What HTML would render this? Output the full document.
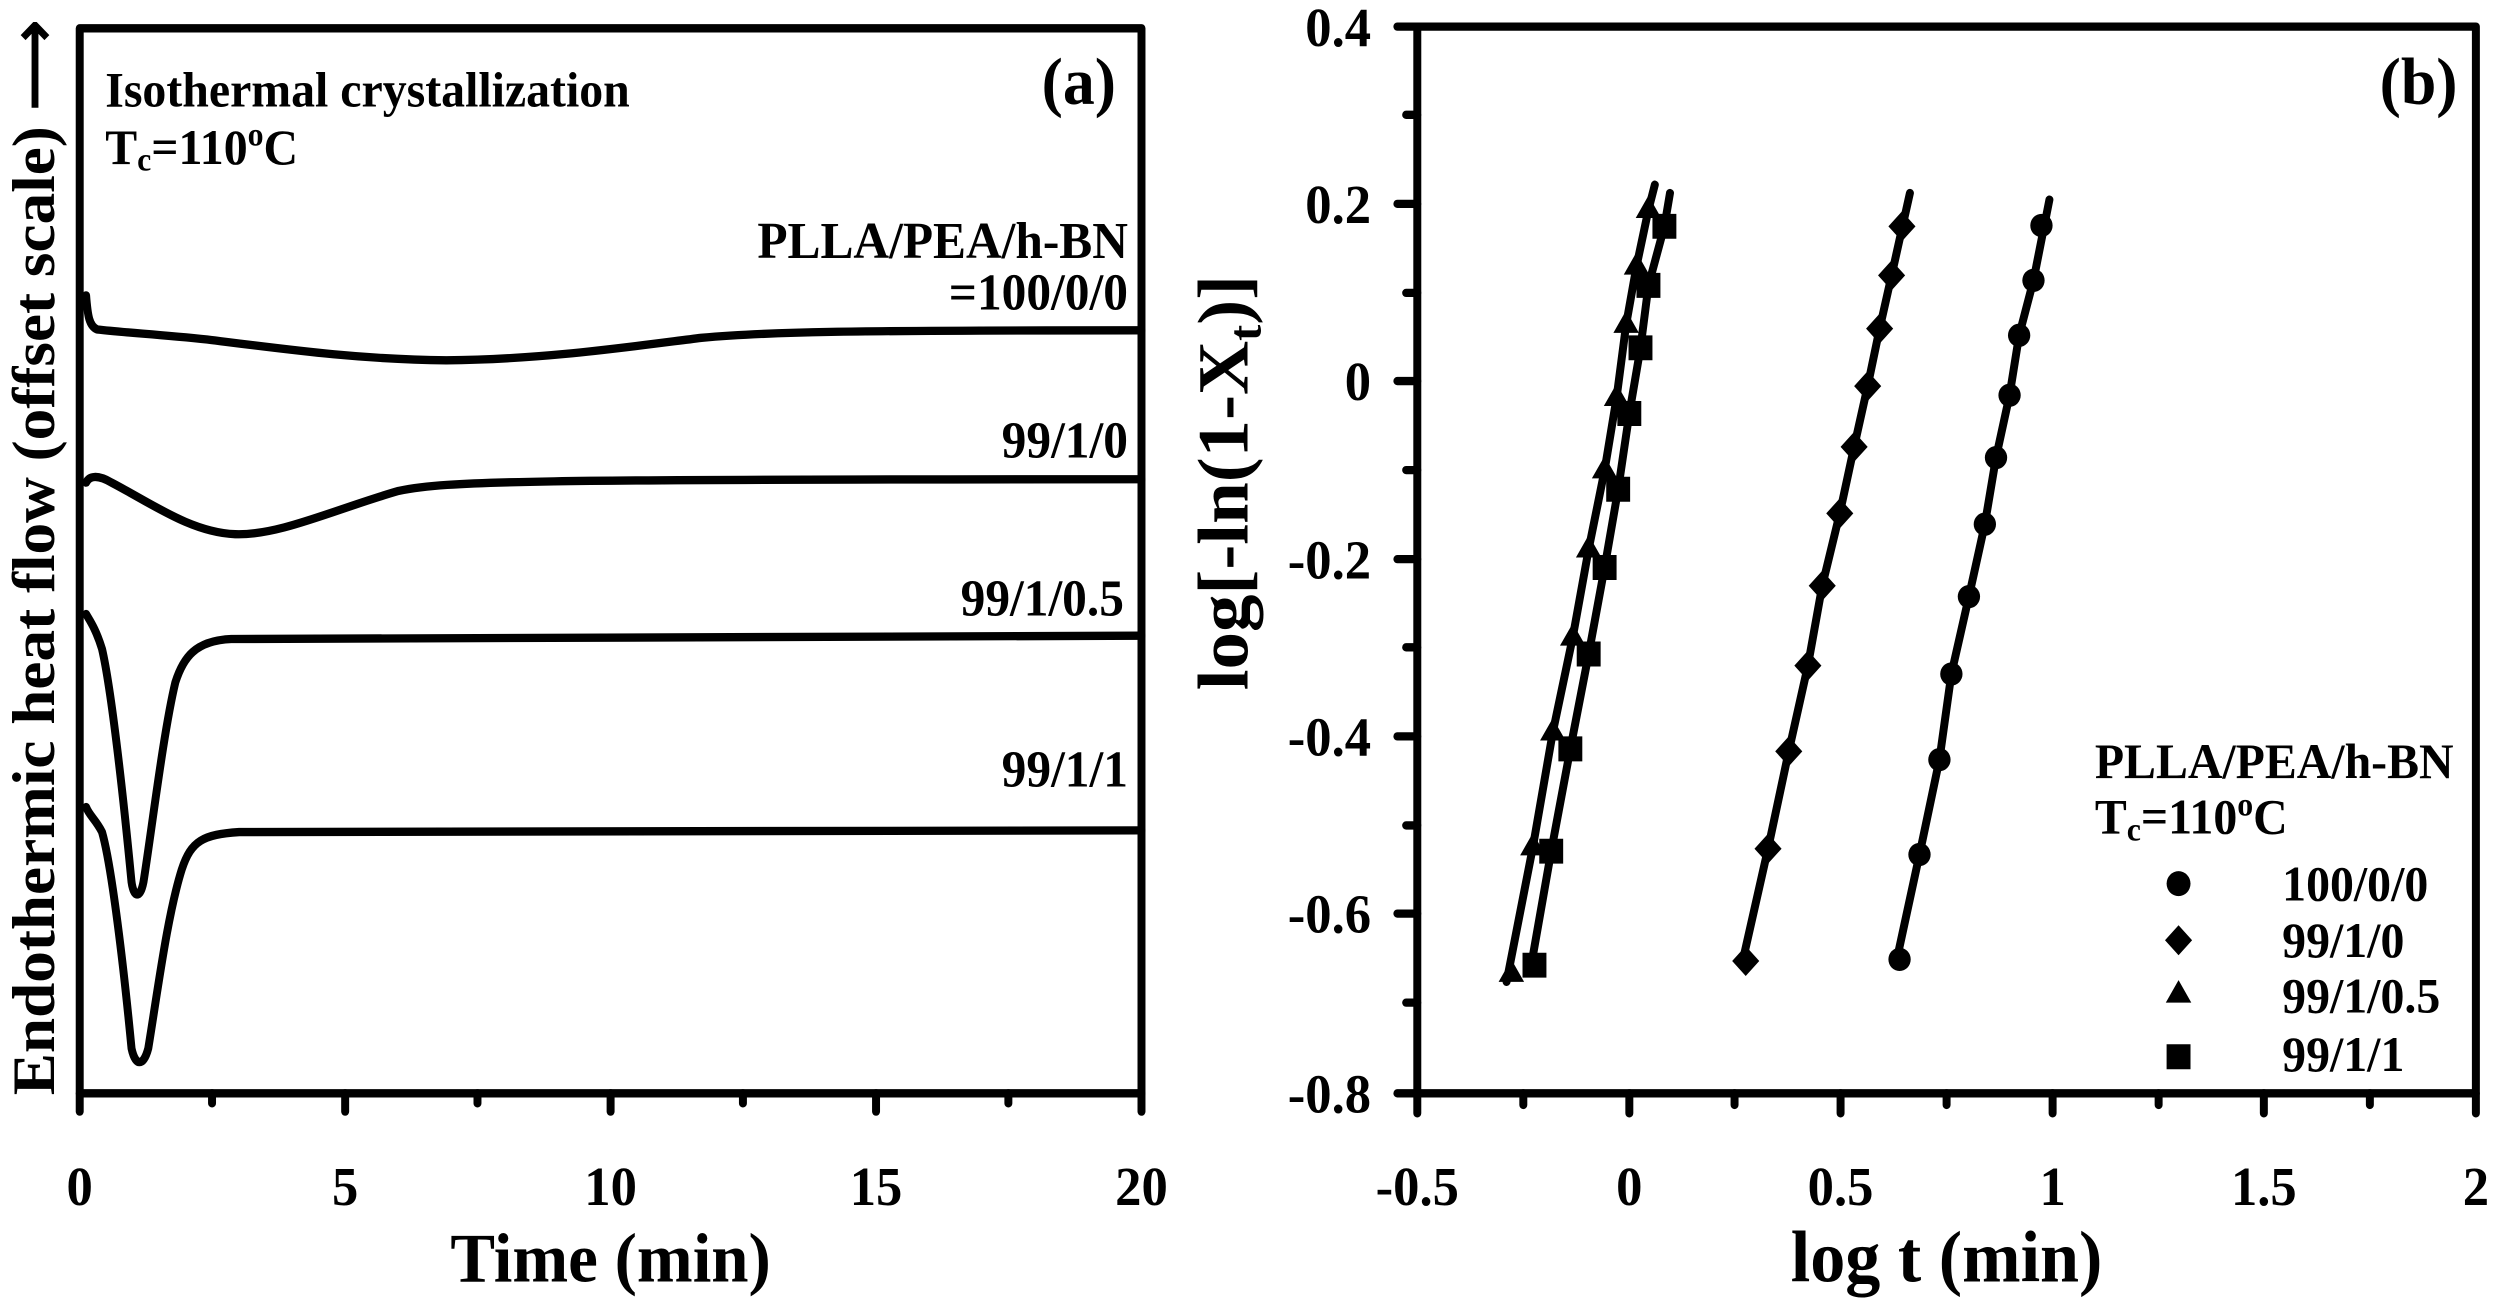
<!DOCTYPE html>
<html><head><meta charset="utf-8"><style>html,body{margin:0;padding:0;background:#fff}svg{display:block}</style></head>
<body>
<svg width="2499" height="1308" viewBox="0 0 3135 1572" preserveAspectRatio="none" xmlns="http://www.w3.org/2000/svg" font-family="'Liberation Serif',serif" font-weight="bold" fill="#000">
<rect width="3135" height="1572" fill="#fff"/>
<!-- Panel a -->
<g stroke="#000" stroke-width="10" fill="none" stroke-linecap="round" stroke-linejoin="round">
<rect x="100" y="34" width="1332" height="1280"/>
<path d="M100 1314v22M433 1314v22M766 1314v22M1099 1314v22M1432 1314v22M266 1314v12M599 1314v12M932 1314v12M1265 1314v12"/>
<path d="M108,355 C110,380 112,392 122,396 C160,400 200,402 260,408 C360,420 450,432 560,433 C680,432 780,418 880,406 C960,399 1050,397 1432,397"/>
<path d="M108,580 C112,572 122,570 140,580 C190,605 240,640 295,642 C350,644 420,612 500,590 C560,578 650,576 1432,576"/>
<path d="M108,738 C112,745 120,755 128,780 C140,830 155,960 165,1060 C168,1080 176,1080 180,1060 C190,1000 205,880 220,820 C230,790 245,770 290,768 C350,766 600,765 1432,764"/>
<path d="M108,970 C112,980 120,985 128,1000 C140,1040 155,1160 165,1260 C170,1282 180,1282 186,1260 C198,1190 210,1100 228,1045 C240,1010 255,1003 300,1000 C400,998 600,998 1432,998"/>
</g>
<g font-size="66" text-anchor="middle">
<text x="100" y="1448">0</text><text x="433" y="1448">5</text><text x="766" y="1448">10</text><text x="1099" y="1448">15</text><text x="1432" y="1448">20</text>
</g>
<text x="766" y="1540" font-size="84" text-anchor="middle">Time (min)</text>
<text transform="translate(68,670) rotate(-90)" font-size="76" text-anchor="middle">Endothermic heat flow (offset scale) ⟶</text>
<text x="132" y="128" font-size="60">Isothermal crystallization</text>
<text x="132" y="197" font-size="60">T<tspan font-size="40" dy="8">c</tspan><tspan dy="-8">=110</tspan><tspan font-size="40" dy="-22">o</tspan><tspan dy="22">C</tspan></text>
<text x="1400" y="125" font-size="80" text-anchor="end">(a)</text>
<g font-size="62" text-anchor="end">
<text x="1415" y="310">PLLA/PEA/h-BN</text>
<text x="1415" y="372">=100/0/0</text>
<text x="1415" y="550">99/1/0</text>
<text x="1410" y="740">99/1/0.5</text>
<text x="1415" y="945">99/1/1</text>
</g>
<!-- y label b -->
<text transform="translate(1565,580) rotate(-90)" font-size="90" text-anchor="middle">log[-ln(1-X<tspan font-size="58" dy="16">t</tspan><tspan dy="-16">)]</tspan></text>
<!-- Panel b -->
<g transform="translate(1568,0)">
<g stroke="#000" stroke-width="10" fill="none" stroke-linecap="round" stroke-linejoin="round">
<rect x="210" y="32" width="1328" height="1282"/>
<path d="M210 32h-25M210 245h-25M210 458h-25M210 672h-25M210 885h-25M210 1098h-25M210 1314h-25M210 138h-14M210 352h-14M210 565h-14M210 778h-14M210 992h-14M210 1205h-14"/>
<path d="M210 1314v24M476 1314v24M741 1314v24M1007 1314v24M1272 1314v24M1538 1314v24M343 1314v14M608 1314v14M874 1314v14M1140 1314v14M1405 1314v14"/>
<polyline points="810,1160 840,1027 865,913 880,810 902,717 922,630 936,550 953,475 965,403 983,337 1003,240"/>
<polyline points="617,1160 650,1020 676,903 700,800 718,704 740,617 758,537 775,464 790,395 805,331 828,232"/>
<polyline points="322,1180 355,1018 380,880 405,766 425,660 445,565 460,478 472,390 485,320 500,252 508,222"/>
<polyline points="352,1165 378,1023 402,900 425,786 445,682 462,588 476,497 490,418 500,343 520,272 527,232"/>
</g>
<g>
<circle cx="815" cy="1153" r="14"/><circle cx="840" cy="1027" r="14"/><circle cx="865" cy="913" r="14"/><circle cx="880" cy="810" r="14"/><circle cx="902" cy="717" r="14"/><circle cx="922" cy="630" r="14"/><circle cx="936" cy="550" r="14"/><circle cx="953" cy="475" r="14"/><circle cx="965" cy="403" r="14"/><circle cx="983" cy="337" r="14"/><circle cx="993" cy="271" r="14"/>
<circle cx="1165" cy="1062" r="15"/>
</g>
<g>
<path d="M622 1137l17 18-17 18-17-18zM650 1002l17 18-17 18-17-18zM676 885l17 18-17 18-17-18zM700 782l17 18-17 18-17-18zM718 686l17 18-17 18-17-18zM740 599l17 18-17 18-17-18zM758 519l17 18-17 18-17-18zM775 446l17 18-17 18-17-18zM790 377l17 18-17 18-17-18zM805 313l17 18-17 18-17-18zM818 254l17 18-17 18-17-18zM1165 1112l17 18-17 18-17-18z"/>
<path d="M328 1153l16 27h-32zM355 1001l16 27h-32zM380 863l16 27h-32zM405 749l16 27h-32zM425 643l16 27h-32zM445 548l16 27h-32zM460 461l16 27h-32zM472 373l16 27h-32zM485 303l16 27h-32zM500 235l16 27h-32zM1165 1178l16 27h-32z"/>
<path d="M342 1145h30v30h-30zM363 1008h30v30h-30zM387 885h30v30h-30zM410 771h30v30h-30zM430 667h30v30h-30zM447 573h30v30h-30zM461 482h30v30h-30zM475 403h30v30h-30zM485 328h30v30h-30zM505 257h30v30h-30zM1150 1255h30v30h-30z"/>
</g>
<g font-size="66" text-anchor="end">
<text x="152" y="55">0.4</text><text x="152" y="268">0.2</text><text x="152" y="481">0</text><text x="152" y="695">-0.2</text><text x="152" y="908">-0.4</text><text x="152" y="1121">-0.6</text><text x="152" y="1337">-0.8</text>
</g>
<g font-size="66" text-anchor="middle">
<text x="210" y="1448">-0.5</text><text x="476" y="1448">0</text><text x="741" y="1448">0.5</text><text x="1007" y="1448">1</text><text x="1272" y="1448">1.5</text><text x="1538" y="1448">2</text>
</g>
<text x="874" y="1540" font-size="88" text-anchor="middle">log t (min)</text>
<text x="1515" y="125" font-size="80" text-anchor="end">(b)</text>
<text x="1060" y="935" font-size="60">PLLA/PEA/h-BN</text>
<text x="1060" y="1002" font-size="60">T<tspan font-size="40" dy="8">c</tspan><tspan dy="-8">=110</tspan><tspan font-size="40" dy="-22">o</tspan><tspan dy="22">C</tspan></text>
<g font-size="60">
<text x="1295" y="1082">100/0/0</text>
<text x="1295" y="1150">99/1/0</text>
<text x="1295" y="1217">99/1/0.5</text>
<text x="1295" y="1287">99/1/1</text>
</g>
</g>
</svg>
</body></html>
